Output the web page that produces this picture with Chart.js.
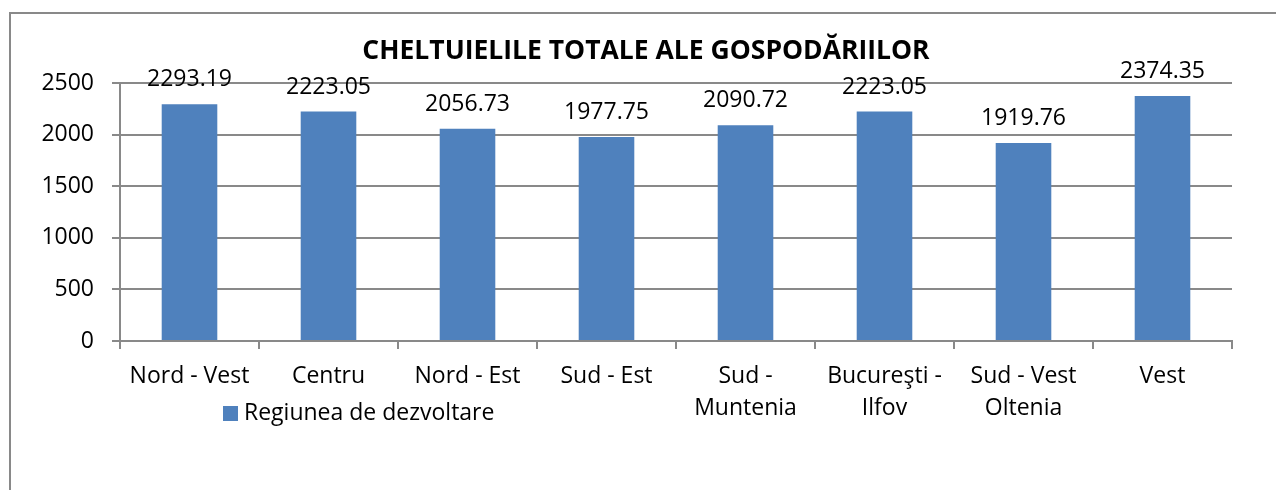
<!DOCTYPE html>
<html>
<head>
<meta charset="utf-8">
<script src="https://cdn.jsdelivr.net/npm/chart.js@4/dist/chart.umd.min.js"></script>
<style>
  body { margin: 0; background: #fff; overflow: hidden; }
  #wrap { position: relative; width: 1276px; height: 490px; }
  #frame { position: absolute; left: 9px; top: 12px; width: 1400px; height: 600px;
           border-top: 2px solid #898989; border-left: 2px solid #898989; }
  #title { position: absolute; left: 0; top: 31px; width: 1292px; text-align: center;
           font: bold 26.5px "Open Sans", sans-serif; color: #000; }
  #legend { position: absolute; left: 223px; top: 395px; font: 23px "Open Sans", sans-serif; color: #000; }
  #legend span.box { display: inline-block; width: 15px; height: 15px; background: #4F81BD;
                     margin-right: 6px; vertical-align: -1px; }
  #box { position: absolute; left: 0; top: 0; width: 1276px; height: 490px; }
</style>
</head>
<body>
<div id="wrap">
  <div id="frame"></div>
  <div id="box"><canvas id="chart"></canvas></div>
  <div id="title">CHELTUIELILE TOTALE ALE GOSPODĂRIILOR</div>
  <div id="legend"><span class="box"></span>Regiunea de dezvoltare</div>
</div>
<script>
// categories (wrapped as in the picture)
const regions = [
    ['Nord - Vest'],
    ['Centru'],
    ['Nord - Est'],
    ['Sud - Est'],
    ['Sud -', 'Muntenia'],
    ['Bucureşti -', 'Ilfov'],
    ['Sud - Vest', 'Oltenia'],
    ['Vest']
];
const expenses = [2293.19, 2223.05, 2056.73, 1977.75, 2090.72, 2223.05, 1919.76, 2374.35];
const seriesName = 'Regiunea de dezvoltare';

const fontFamily = '"Open Sans", sans-serif';

// value labels above each bar
const valueLabels = {
    id: 'valueLabels',
    afterDatasetsDraw(chart) {
        const ctx = chart.ctx;
        const meta = chart.getDatasetMeta(0);
        ctx.save();
        ctx.font = '23px ' + fontFamily;
        ctx.fillStyle = '#000';
        ctx.textAlign = 'center';
        ctx.textBaseline = 'alphabetic';
        meta.data.forEach((bar, i) => {
            ctx.fillText(expenses[i].toFixed(2), bar.x, bar.y - 18);
        });
        ctx.restore();
    }
};

const ctx = document.getElementById('chart').getContext('2d');
new Chart(ctx, {
    type: 'bar',
    data: {
        labels: regions,
        datasets: [{
            label: seriesName,
            data: expenses,
            backgroundColor: '#4F81BD',
            borderWidth: 0,
            barPercentage: 0.4,
            categoryPercentage: 1
        }]
    },
    options: {
        responsive: true,
        maintainAspectRatio: false,
        animation: false,
        layout: { padding: { top: 83, right: 44, bottom: 0, left: 0 } },
        plugins: {
            legend: { display: false },
            title: { display: false },
            tooltip: { enabled: false }
        },
        scales: {
            x: {
                offset: true,
                grid: {
                    offset: true,
                    drawOnChartArea: false,
                    drawTicks: true,
                    tickLength: 8,
                    color: '#898989',
                    lineWidth: 2
                },
                border: { color: '#898989', width: 2 },
                ticks: {
                    color: '#000',
                    padding: 11,
                    maxRotation: 0,
                    autoSkip: false,
                    font: { family: fontFamily, size: 23, lineHeight: 1.4 }
                },
                afterFit(scale) { scale.height = 149; }
            },
            y: {
                min: 0,
                max: 2500,
                ticks: {
                    stepSize: 500,
                    color: '#000',
                    padding: 18,
                    font: { family: fontFamily, size: 23 },
                    callback: (v) => String(v)
                },
                grid: {
                    color: '#898989',
                    lineWidth: 2,
                    tickLength: 8
                },
                border: { color: '#898989', width: 2 },
                afterFit(scale) { scale.width = 120; }
            }
        }
    },
    plugins: [valueLabels]
});
</script>
</body>
</html>
